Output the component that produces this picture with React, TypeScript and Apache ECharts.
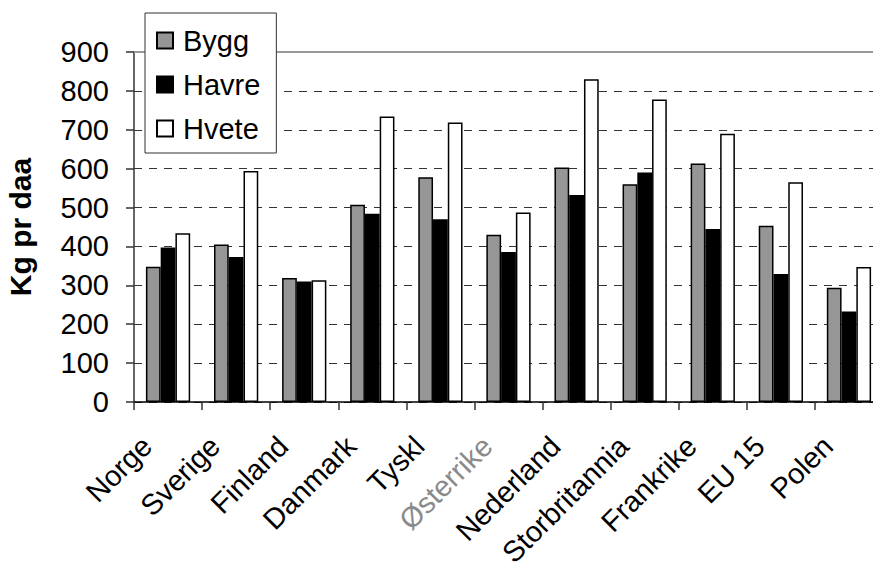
import React, { useEffect, useRef } from "react";
import * as echarts from "echarts";

const categories = ["Norge", "Sverige", "Finland", "Danmark", "Tyskl", "Østerrike", "Nederland", "Storbritannia", "Frankrike", "EU 15", "Polen"];
const bygg = [348, 405, 319, 507, 578, 430, 603, 560, 613, 453, 294];
const havre = [397, 373, 310, 484, 470, 386, 532, 590, 445, 329, 233];
const hvete = [434, 594, 313, 734, 719, 487, 830, 778, 690, 565, 347];
const yTicks = { min: 0, max: 900, interval: 100 };

const FONT = "'Liberation Sans', Arial, sans-serif";

export default function App() {
  const ref = useRef<HTMLDivElement>(null);
  useEffect(() => {
    if (!ref.current) return;
    const chart = echarts.init(ref.current, undefined, { renderer: "svg" });
    const barStyle = (color: string) => ({ color, borderColor: "#000", borderWidth: 1.5 });
    chart.setOption({
      animation: false,
      backgroundColor: "#fff",
      textStyle: { fontFamily: FONT },
      grid: { left: 134, right: -10, top: 52, bottom: 162, containLabel: false, outerBoundsMode: "none" },
      legend: {
        orient: "vertical",
        left: 145,
        top: 13,
        backgroundColor: "#fff",
        borderColor: "#333",
        borderWidth: 1,
        borderRadius: 0,
        padding: [13, 16, 10, 11],
        itemWidth: 16,
        itemHeight: 16,
        itemGap: 15,
        icon: "rect",
        textStyle: { fontSize: 29, color: "#000", fontFamily: FONT, padding: [0, 0, 0, 5] },
        data: ["Bygg", "Havre", "Hvete"],
      },
      xAxis: [
        {
          type: "category",
          data: categories,
          axisLine: { show: true, lineStyle: { color: "#000", width: 1.5 } },
          axisTick: { show: true, alignWithLabel: false, length: 8, lineStyle: { color: "#333", width: 1.5 } },
          axisLabel: {
            rotate: 45,
            fontSize: 29,
            fontFamily: FONT,
            margin: 18,
            padding: [0, 30, 0, 0],
            interval: 0,
            color: (_v: string, i: number) => (categories[i] === "Østerrike" ? "#8a8a8a" : "#000"),
          },
          splitLine: { show: false },
        },
        {
          type: "category",
          position: "top",
          data: categories,
          axisLine: { show: true, lineStyle: { color: "#999", width: 2 } },
          axisTick: { show: false },
          axisLabel: { show: false },
        },
      ],
      yAxis: {
        type: "value",
        min: yTicks.min,
        max: yTicks.max,
        interval: yTicks.interval,
        name: "Kg pr daa",
        nameLocation: "middle",
        nameGap: 99,
        nameTextStyle: { fontSize: 30, fontWeight: "bold", color: "#000", fontFamily: FONT },
        axisLine: { show: true, lineStyle: { color: "#333", width: 1.5 } },
        axisTick: { show: true, length: 8, lineStyle: { color: "#333", width: 1.5 } },
        axisLabel: { fontSize: 29, color: "#000", margin: 25, fontFamily: FONT },
        splitLine: { show: true, lineStyle: { color: "#333", type: [8, 7], width: 1.2 } },
      },
      series: [
        { name: "Bygg", type: "bar", data: bygg, itemStyle: barStyle("#969696"), barGap: "0%", barCategoryGap: "35%" },
        { name: "Havre", type: "bar", data: havre, itemStyle: barStyle("#000000"), barGap: "0%", barCategoryGap: "35%" },
        { name: "Hvete", type: "bar", data: hvete, itemStyle: barStyle("#ffffff"), barGap: "0%", barCategoryGap: "35%" },
      ],
    });
    return () => chart.dispose();
  }, []);
  return <div ref={ref} style={{ width: 873, height: 564, position: "absolute", left: 0, top: 0 }} />;
}
